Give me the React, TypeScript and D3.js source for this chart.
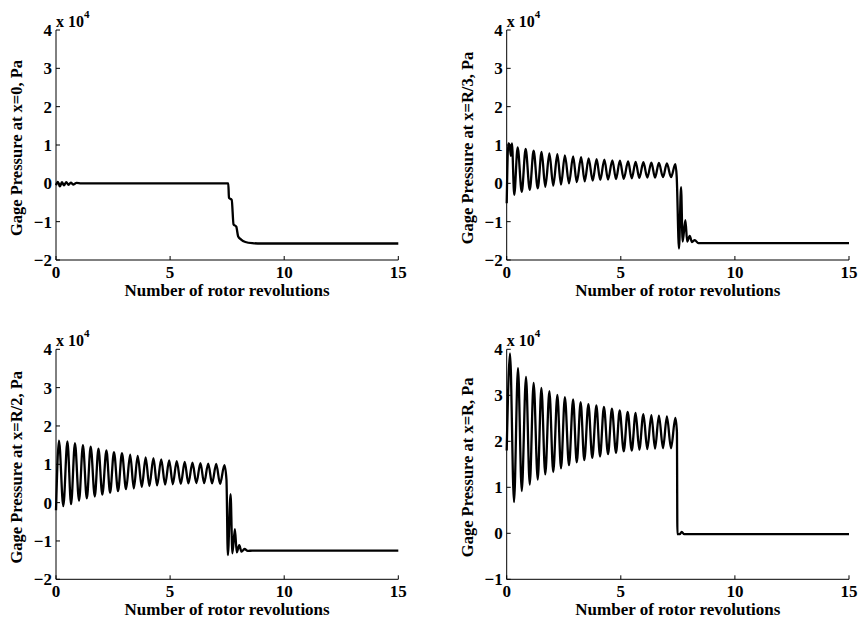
import React from "react";
import * as d3 from "d3";

// Number of rotor revolutions vs gage pressure (units of 10^4 Pa)
const xTicks = [0, 5, 10, 15];
const yTicksWide = [-2, -1, 0, 1, 2, 3, 4];
const yTicksR = [-1, 0, 1, 2, 3, 4];

const seriesX0: [number, number][] = [
  [0, -0.05], [0.08, 0.04], [0.17, -0.08], [0.26, 0.03], [0.35, -0.05], [0.45, 0.03],
  [0.55, -0.04], [0.65, 0.02], [0.75, -0.03], [0.9, 0.01], [1.1, 0], [7.55, 0],
  [7.58, -0.38], [7.7, -0.43], [7.78, -1.07], [7.9, -1.13], [7.98, -1.38], [8.1, -1.46],
  [8.3, -1.53], [8.6, -1.56], [9, -1.57], [15, -1.57],
];

const seriesR3: [number, number][] = [
  [0, -0.52], [0.07, 1.04], [0.13, 1.0], [0.18, 0.72], [0.23, 1.04],
  [0.33, -0.3], [0.48, 0.94], [0.66, -0.22], [0.83, 0.9], [1.01, -0.17], [1.18, 0.85],
  [1.36, -0.13], [1.53, 0.82], [1.69, -0.09], [1.87, 0.78], [2.04, -0.06], [2.22, 0.76],
  [2.38, -0.03], [2.55, 0.73], [2.73, 0.0], [2.91, 0.7], [3.07, 0.03], [3.26, 0.68],
  [3.42, 0.05], [3.59, 0.65], [3.77, 0.07], [3.94, 0.63], [4.1, 0.09], [4.28, 0.62],
  [4.44, 0.1], [4.63, 0.6], [4.79, 0.11], [4.96, 0.59], [5.13, 0.12], [5.32, 0.57],
  [5.48, 0.13], [5.65, 0.56], [5.81, 0.14], [5.99, 0.55], [6.16, 0.15], [6.34, 0.54],
  [6.5, 0.15], [6.67, 0.53], [6.85, 0.16], [7.02, 0.52], [7.2, 0.16], [7.39, 0.5],
  [7.45, 0.17], [7.55, -1.7], [7.64, -0.1], [7.71, -1.52], [7.83, -0.96], [7.91, -1.52],
  [8.02, -1.37], [8.12, -1.53], [8.24, -1.48], [8.4, -1.56], [15, -1.56],
];

const seriesR2: [number, number][] = [
  [0, -0.2], [0.13, 1.62], [0.32, -0.09], [0.5, 1.6], [0.66, -0.04], [0.83, 1.55],
  [1.01, 0.05], [1.18, 1.5], [1.35, 0.11], [1.52, 1.46], [1.7, 0.16], [1.86, 1.41],
  [2.03, 0.21], [2.21, 1.36], [2.37, 0.26], [2.54, 1.32], [2.72, 0.3], [2.89, 1.29],
  [3.07, 0.35], [3.25, 1.25], [3.41, 0.37], [3.58, 1.22], [3.76, 0.41], [3.93, 1.18],
  [4.09, 0.43], [4.27, 1.16], [4.43, 0.45], [4.61, 1.13], [4.78, 0.47], [4.96, 1.1],
  [5.12, 0.48], [5.29, 1.08], [5.47, 0.49], [5.64, 1.06], [5.8, 0.5], [5.98, 1.04],
  [6.15, 0.51], [6.33, 1.03], [6.49, 0.51], [6.67, 1.02], [6.84, 0.5], [7.02, 1.01],
  [7.19, 0.49], [7.38, 0.98], [7.47, 0.6], [7.53, -1.37], [7.65, 0.22], [7.73, -1.32],
  [7.84, -0.69], [7.92, -1.3], [8.03, -1.11], [8.13, -1.28], [8.26, -1.21], [8.4, -1.26],
  [8.6, -1.25], [15, -1.25],
];

const seriesR: [number, number][] = [
  [0, 1.8], [0.145, 3.91], [0.32, 0.68], [0.495, 3.59], [0.66, 0.92], [0.846, 3.4],
  [1.01, 1.06], [1.18, 3.27], [1.36, 1.17], [1.52, 3.16], [1.69, 1.28], [1.87, 3.09],
  [2.04, 1.33], [2.22, 3.01], [2.38, 1.41], [2.55, 2.96], [2.73, 1.48], [2.91, 2.91],
  [3.07, 1.54], [3.24, 2.85], [3.4, 1.59], [3.58, 2.81], [3.75, 1.64], [3.93, 2.78],
  [4.09, 1.67], [4.26, 2.75], [4.44, 1.72], [4.61, 2.71], [4.79, 1.75], [4.95, 2.67],
  [5.13, 1.78], [5.3, 2.64], [5.48, 1.8], [5.65, 2.62], [5.81, 1.82], [5.99, 2.59],
  [6.16, 1.83], [6.34, 2.57], [6.5, 1.84], [6.67, 2.56], [6.85, 1.85], [7.02, 2.54],
  [7.2, 1.85], [7.39, 2.51], [7.46, 2.2], [7.48, -0.02], [7.58, -0.02], [7.67, 0.03],
  [7.78, -0.02], [15, -0.02],
];

const panels = [
  { label: "Gage Pressure at x=0, Pa", data: seriesX0, yDomain: [-2, 4], yTicks: yTicksWide, left: 56, top: 30 },
  { label: "Gage Pressure at x=R/3, Pa", data: seriesR3, yDomain: [-2, 4], yTicks: yTicksWide, left: 506.7, top: 30 },
  { label: "Gage Pressure at x=R/2, Pa", data: seriesR2, yDomain: [-2, 4], yTicks: yTicksWide, left: 56, top: 349.3 },
  { label: "Gage Pressure at x=R, Pa", data: seriesR, yDomain: [-1, 4], yTicks: yTicksR, left: 506.7, top: 349.3 },
];

const W = 342.3;
const H = 230;
const FONT = "'Liberation Serif', 'Times New Roman', serif";

function fmt(v: number) {
  return v < 0 ? "\u2212" + Math.abs(v) : String(v);
}

function Panel({ p }: { p: (typeof panels)[number] }) {
  const x = d3.scaleLinear().domain([0, 15]).range([p.left, p.left + W]);
  const y = d3.scaleLinear().domain(p.yDomain).range([p.top + H, p.top]);
  const line = d3
    .line<[number, number]>()
    .x((d) => x(d[0]))
    .y((d) => y(d[1]))
    .curve(d3.curveMonotoneX);
  const bottom = p.top + H;
  return (
    <g>
      <path d={line(p.data) || ""} fill="none" stroke="#000" strokeWidth={2.3} strokeLinejoin="round" />
      <line x1={p.left} x2={p.left + W} y1={bottom} y2={bottom} stroke="#000" strokeWidth={1} />
      <line x1={p.left} x2={p.left} y1={p.top} y2={bottom} stroke="#000" strokeWidth={1} />
      {xTicks.map((t) => (
        <g key={"x" + t}>
          <line x1={x(t)} x2={x(t)} y1={bottom} y2={bottom - 4} stroke="#000" strokeWidth={1} />
          <text x={x(t)} y={bottom + 18} textAnchor="middle" fontSize={17} fontWeight="bold" fontFamily={FONT}>
            {t}
          </text>
        </g>
      ))}
      {p.yTicks.map((t) => (
        <g key={"y" + t}>
          <line x1={p.left} x2={p.left + 4} y1={y(t)} y2={y(t)} stroke="#000" strokeWidth={1} />
          <text x={p.left - 4} y={y(t) + 6} textAnchor="end" fontSize={17} fontWeight="bold" fontFamily={FONT}>
            {fmt(t)}
          </text>
        </g>
      ))}
      <text x={p.left} y={p.top - 3} fontSize={16} fontWeight="bold" fontFamily={FONT}>
        x 10
        <tspan dy={-9} fontSize={11}>4</tspan>
      </text>
      <text
        x={p.left + W / 2}
        y={bottom + 36}
        textAnchor="middle"
        fontSize={17}
        fontWeight="bold"
        fontFamily={FONT}
      >
        Number of rotor revolutions
      </text>
      <text
        transform={`translate(${p.left - 34},${p.top + H / 2 + 3}) rotate(-90)`}
        textAnchor="middle"
        fontSize={16.5}
        fontWeight="bold"
        fontFamily={FONT}
      >
        {p.label}
      </text>
    </g>
  );
}

export default function App() {
  return (
    <svg
      width={858}
      height={621}
      viewBox="0 0 858 621"
      style={{ position: "absolute", left: 0, top: 0, background: "#fff" }}
    >
      <rect x={0} y={0} width={858} height={621} fill="#fff" />
      {panels.map((p, i) => (
        <Panel key={i} p={p} />
      ))}
    </svg>
  );
}
